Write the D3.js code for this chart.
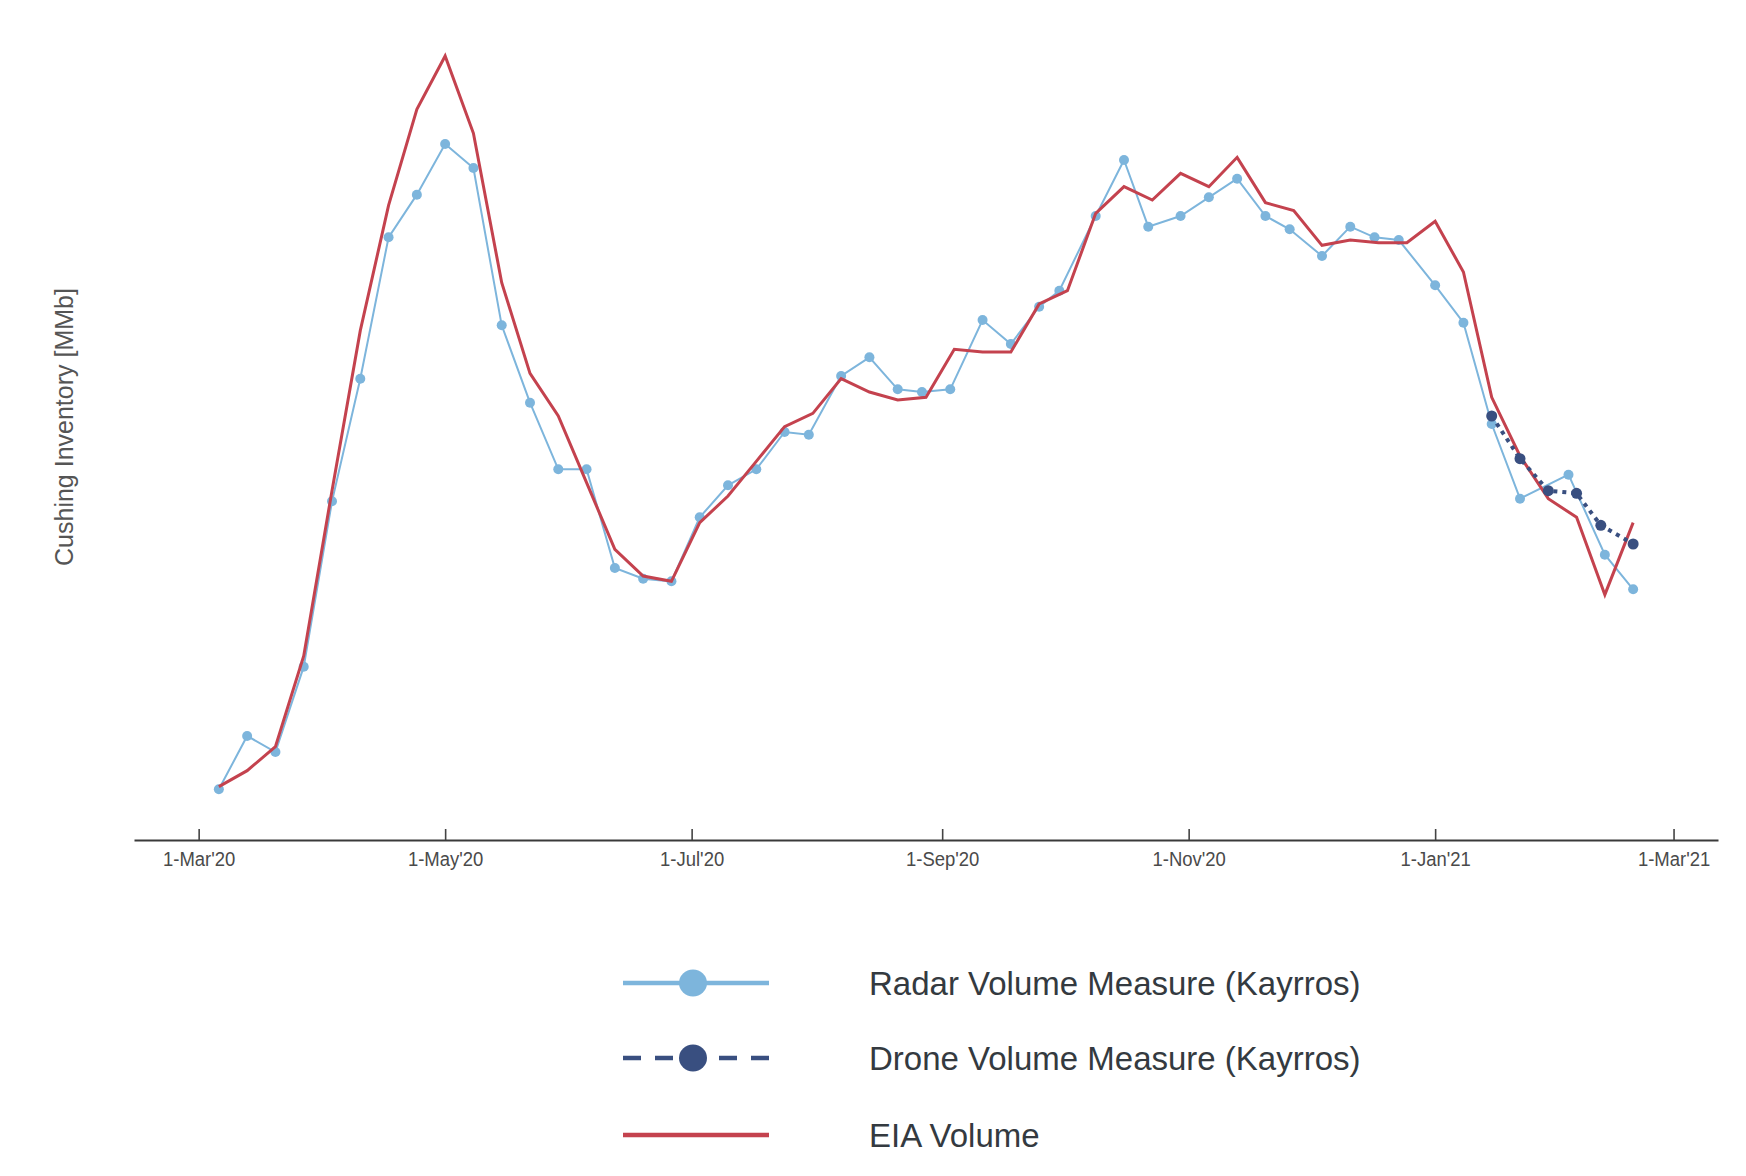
<!DOCTYPE html>
<html>
<head>
<meta charset="utf-8">
<script src="https://cdn.jsdelivr.net/npm/d3@7"></script>
<style>
  body { margin: 0; background: #fff; }
</style>
</head>
<body>
<div id="viz"></div>
<script>
// Cushing inventory, MMb
const radarDates = [
  '2020-03-06','2020-03-13','2020-03-20','2020-03-27','2020-04-03','2020-04-10','2020-04-17','2020-04-24',
  '2020-05-01','2020-05-08','2020-05-15','2020-05-22','2020-05-29','2020-06-05','2020-06-12','2020-06-19',
  '2020-06-26','2020-07-03','2020-07-10','2020-07-17','2020-07-24','2020-07-30','2020-08-07','2020-08-14',
  '2020-08-21','2020-08-27','2020-09-03','2020-09-11','2020-09-18','2020-09-25','2020-09-30','2020-10-09',
  '2020-10-16','2020-10-22','2020-10-30','2020-11-06','2020-11-13','2020-11-20','2020-11-26','2020-12-04',
  '2020-12-11','2020-12-17','2020-12-23','2021-01-01','2021-01-08','2021-01-15','2021-01-22','2021-02-03',
  '2021-02-12','2021-02-19'
]
const radarValues = [
  37.9, 39.9, 39.3, 42.5, 48.7, 53.3, 58.6, 60.2,
  62.1, 61.2, 55.3, 52.4, 49.9, 49.9, 46.2, 45.8,
  45.7, 48.1, 49.3, 49.9, 51.3, 51.2, 53.4, 54.1,
  52.9, 52.8, 52.9, 55.5, 54.6, 56.0, 56.6, 59.4,
  61.5, 59.0, 59.4, 60.1, 60.8, 59.4, 58.9, 57.9,
  59.0, 58.6, 58.5, 56.8, 55.4, 51.6, 48.8, 49.7,
  46.7, 45.4
]

const eiaDates = [
  '2020-03-06','2020-03-13','2020-03-20','2020-03-27','2020-04-03','2020-04-10','2020-04-17','2020-04-24',
  '2020-05-01','2020-05-08','2020-05-15','2020-05-22','2020-05-29','2020-06-05','2020-06-12','2020-06-19',
  '2020-06-26','2020-07-03','2020-07-10','2020-07-17','2020-07-24','2020-07-31','2020-08-07','2020-08-14',
  '2020-08-21','2020-08-28','2020-09-04','2020-09-11','2020-09-18','2020-09-25','2020-10-02','2020-10-09',
  '2020-10-16','2020-10-23','2020-10-30','2020-11-06','2020-11-13','2020-11-20','2020-11-27','2020-12-04',
  '2020-12-11','2020-12-18','2020-12-25','2021-01-01','2021-01-08','2021-01-15','2021-01-22','2021-01-29',
  '2021-02-05','2021-02-12','2021-02-19'
]
const eiaValues = [
  38.0, 38.6, 39.5, 42.9, 49.1, 55.1, 59.8, 63.4,
  65.4, 62.5, 56.9, 53.5, 51.9, 49.4, 46.9, 45.9,
  45.7, 47.9, 48.9, 50.2, 51.5, 52.0, 53.3, 52.8,
  52.5, 52.6, 54.4, 54.3, 54.3, 56.1, 56.6, 59.5,
  60.5, 60.0, 61.0, 60.5, 61.6, 59.9, 59.6, 58.3,
  58.5, 58.4, 58.4, 59.2, 57.3, 52.6, 50.4, 48.8,
  48.1, 45.2, 47.9
]

const droneDates = ['2021-01-15','2021-01-22','2021-01-29','2021-02-05','2021-02-11','2021-02-19']
const droneValues = [51.9, 50.3, 49.1, 49.0, 47.8, 47.1]

const tickDates = ['2020-03-01','2020-05-01','2020-07-01','2020-09-01','2020-11-01','2021-01-01','2021-03-01']

const legendLabels = ['Radar Volume Measure (Kayrros)', 'Drone Volume Measure (Kayrros)', 'EIA Volume']

const radarColor = '#7db5dc'
const droneColor = '#394f80'
const eiaColor = '#c4424e'

const parseDate = d3.timeParse('%Y-%m-%d')
const toPoints = (dates, values) => dates.map((d, i) => ({date: parseDate(d), value: values[i]}))

const radar = toPoints(radarDates, radarValues)
const eia = toPoints(eiaDates, eiaValues)
const drone = toPoints(droneDates, droneValues)

let dimensions = {
  width: 1746,
  height: 1176,
  margin: {
    top: 0,
    right: 28,
    bottom: 336,
    left: 134,
  },
}
dimensions.boundedWidth = dimensions.width - dimensions.margin.left - dimensions.margin.right
dimensions.boundedHeight = dimensions.height - dimensions.margin.top - dimensions.margin.bottom

const wrapper = d3.select('#viz')
  .append('svg')
  .attr('width', dimensions.width)
  .attr('height', dimensions.height)

const chart = wrapper.append('g')
  .attr('transform', `translate(${dimensions.margin.left},${dimensions.margin.top})`)

// scales
const xScale = d3.scaleTime()
  .domain([parseDate('2020-02-14'), parseDate('2021-03-12')])
  .range([0, dimensions.boundedWidth])

const yScale = d3.scaleLinear()
  .domain([36, 67.5])
  .range([dimensions.boundedHeight, 0])

// x axis, ticks pointing up
const xAxisGenerator = d3.axisBottom(xScale)
  .tickValues(tickDates.map(parseDate))
  .tickFormat(d3.timeFormat("%-d-%b'%y"))
  .tickSizeInner(-11)
  .tickSizeOuter(0)
  .tickPadding(11)

const xAxis = chart.append('g')
  .attr('transform', `translate(0,${dimensions.boundedHeight})`)
  .call(xAxisGenerator)

xAxis.select('.domain').attr('stroke', '#3a3a3a').attr('stroke-width', 2.2)
xAxis.selectAll('.tick line').attr('stroke', '#444').attr('stroke-width', 1.6)
// labels look condensed in the original
xAxis.selectAll('.tick text')
  .attr('fill', '#4a4a4a')
  .attr('transform', 'scale(0.88,1)')
  .attr('x', function() { return 0 })
  .style('font-family', '"Liberation Sans", Arial, sans-serif')
  .style('font-size', '21px')

// y label only (no axis drawn)
wrapper.append('text')
  .attr('transform', `translate(64,427) rotate(-90)`)
  .attr('text-anchor', 'middle')
  .attr('dominant-baseline', 'central')
  .style('font-family', '"Liberation Sans", Arial, sans-serif')
  .style('font-size', '25px')
  .attr('fill', '#555')
  .text('Cushing Inventory [MMb]')

// lines
const lineGenerator = d3.line()
  .x(d => xScale(d.date))
  .y(d => yScale(d.value))

chart.append('path')
  .attr('d', lineGenerator(radar))
  .attr('fill', 'none')
  .attr('stroke', radarColor)
  .attr('stroke-width', 2)

chart.append('g')
  .selectAll('circle')
  .data(radar)
  .join('circle')
  .attr('cx', d => xScale(d.date))
  .attr('cy', d => yScale(d.value))
  .attr('r', 5)
  .attr('fill', radarColor)

chart.append('path')
  .attr('d', lineGenerator(eia))
  .attr('fill', 'none')
  .attr('stroke', eiaColor)
  .attr('stroke-width', 3)
  .attr('stroke-linejoin', 'miter')

chart.append('path')
  .attr('d', lineGenerator(drone))
  .attr('fill', 'none')
  .attr('stroke', droneColor)
  .attr('stroke-width', 4)
  .attr('stroke-dasharray', '4,5')

chart.append('g')
  .selectAll('circle')
  .data(drone)
  .join('circle')
  .attr('cx', d => xScale(d.date))
  .attr('cy', d => yScale(d.value))
  .attr('r', 5.5)
  .attr('fill', droneColor)

// legend
const legendRows = [
  {label: legendLabels[0], color: radarColor, dash: null, marker: true, y: 983},
  {label: legendLabels[1], color: droneColor, dash: '18,14', marker: true, y: 1058},
  {label: legendLabels[2], color: eiaColor, dash: null, marker: false, y: 1135},
]

const legend = wrapper.append('g')

const rows = legend.selectAll('g')
  .data(legendRows)
  .join('g')
  .attr('transform', d => `translate(0,${d.y})`)

rows.append('line')
  .attr('x1', 623)
  .attr('x2', 769)
  .attr('stroke', d => d.color)
  .attr('stroke-width', 4.5)
  .attr('stroke-dasharray', d => d.dash)

rows.filter(d => d.marker)
  .append('ellipse')
  .attr('cx', 693)
  .attr('rx', 14)
  .attr('ry', 13.5)
  .attr('fill', d => d.color)

rows.append('text')
  .attr('x', 869)
  .attr('dominant-baseline', 'central')
  .style('font-family', '"Liberation Sans", Arial, sans-serif')
  .style('font-size', '33px')
  .attr('fill', '#343a40')
  .text(d => d.label)
</script>
</body>
</html>
